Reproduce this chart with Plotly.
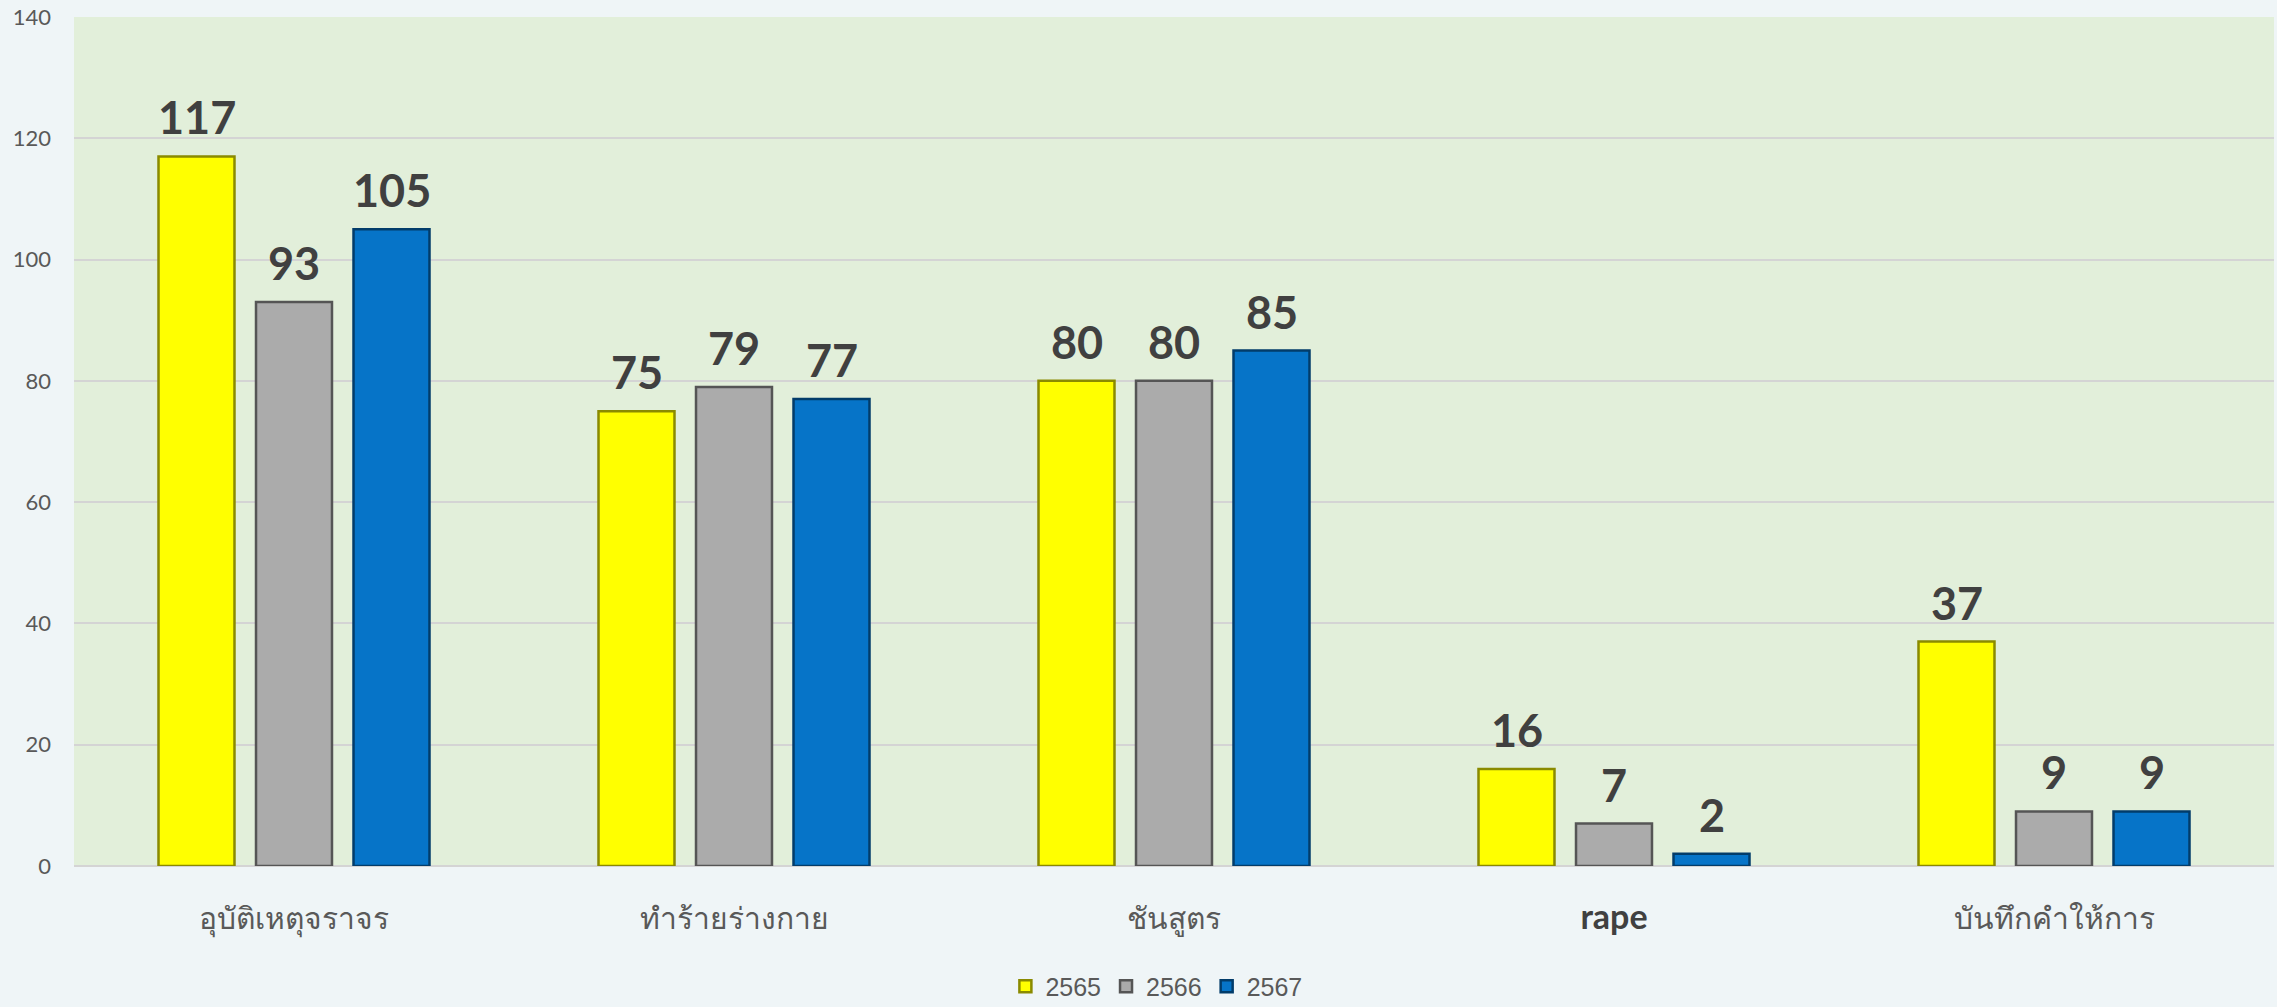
import plotly.graph_objects as go

categories = ["อุบัติเหตุจราจร", "ทำร้ายร่างกาย", "ชันสูตร", "rape", "บันทึกคำให้การ"]
tick_labels = ["อุบัติเหตุจราจร", "ทำร้ายร่างกาย", "ชันสูตร",
               "<b><span style='font-size:34px;color:#404040'>rape</span></b>", "บันทึกคำให้การ"]
years = ["2565", "2566", "2567"]
v2565 = [117, 75, 80, 16, 37]
v2566 = [93, 79, 80, 7, 9]
v2567 = [105, 77, 85, 2, 9]
series = [v2565, v2566, v2567]
colors = ["#FFFF00", "#ABABAB", "#0674C8"]
edge = ["#8A8A00", "#555555", "#023C6A"]

slot = 0.2216
bar_w = 0.1727
xs = list(range(len(categories)))

fig = go.Figure()
annotations = []
for k, (name, vals) in enumerate(zip(years, series)):
    center_off = (k - 1) * slot
    fig.add_trace(go.Bar(
        x=xs, y=vals, name=name,
        width=bar_w, offset=center_off - bar_w / 2,
        marker=dict(color=colors[k], line=dict(color=edge[k], width=2.5)),
    ))
    for i, v in zip(xs, vals):
        annotations.append(dict(
            x=i + center_off, y=v, xref="x", yref="y", text=f"<b>{v}</b>",
            showarrow=False, yanchor="bottom", yshift=10,
            font=dict(family="Lato, Open Sans, sans-serif", size=45, color="#404040"),
        ))

fig.update_layout(
    width=2277, height=1007,
    margin=dict(l=74, r=3, t=17, b=141, autoexpand=False),
    paper_bgcolor="#EFF5F7",
    plot_bgcolor="#E2EFDA",
    barmode="overlay",
    showlegend=True,
    legend=dict(orientation="h", x=0.492, xanchor="center", y=-0.142, yanchor="middle",
                font=dict(family="Liberation Sans, Arial, sans-serif", size=25, color="#595959"),
                itemwidth=30, traceorder="normal", bgcolor="rgba(0,0,0,0)",
                tracegroupgap=0),
    annotations=annotations,
    font=dict(family="Lato, Noto Sans, sans-serif", color="#595959"),
)
fig.update_xaxes(
    range=[-0.5, len(categories) - 0.5], tickmode="array", tickvals=xs, ticktext=tick_labels,
    tickfont=dict(size=30, color="#595959"), showgrid=False, zeroline=False,
    ticks="outside", ticklen=0, ticklabelstandoff=26, showline=False, automargin=False,
)
fig.update_yaxes(
    range=[0, 140], tickmode="linear", tick0=0, dtick=20,
    tickfont=dict(size=22, color="#595959", family="Lato, sans-serif"),
    gridcolor="#D4D4D4", gridwidth=1.5, zeroline=True, zerolinecolor="#D4D4D4", zerolinewidth=2,
    ticklabelstandoff=22, showline=False, automargin=False,
)
fig.write_html("out.html", config={"displayModeBar": False},
               post_script="document.body.style.margin='0';document.body.style.background='#EFF5F7';")
